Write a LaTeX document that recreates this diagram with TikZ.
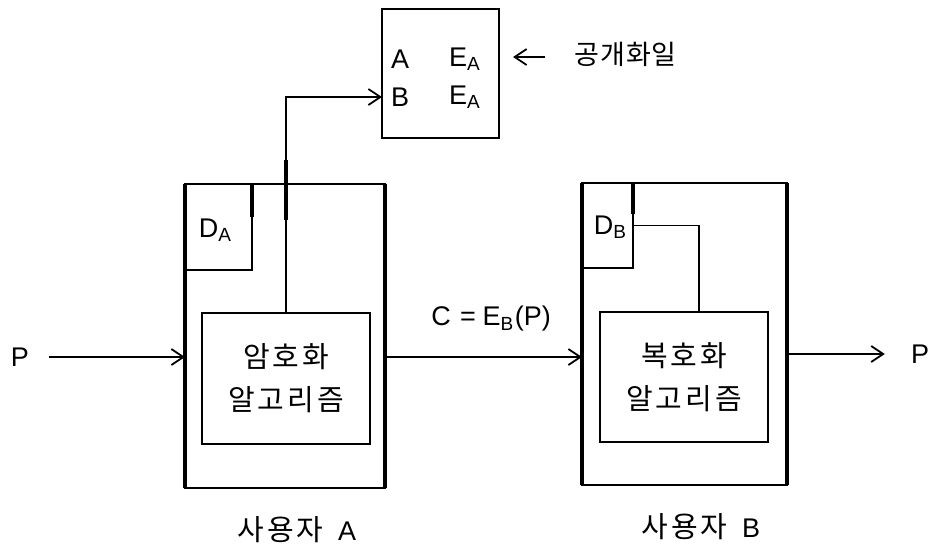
\documentclass[tikz,border=0pt]{standalone}
\usepackage{fontspec}
\setmainfont{Liberation Sans}
\newfontfamily\kr{Noto Sans CJK KR}
\usetikzlibrary{arrows.meta}
\newcommand{\lowsub}[1]{\raisebox{-0.3ex}{\fontsize{19}{19}\selectfont #1}}
\tikzset{
  box/.style={draw, line width=1.6pt, rectangle, inner sep=0pt, outer sep=0pt, anchor=north west},
  outerbox/.style={draw, line width=2.2pt, rectangle, inner sep=0pt, outer sep=0pt, anchor=north west},
  heavy/.style={line width=4pt},
  conn/.style={line width=1.6pt},
  arr/.style={line width=1.6pt, -{Straight Barb[length=12pt,width=16pt,line width=1.8pt]}},
  lat/.style={font=\fontsize{27}{30}\selectfont, inner sep=0pt},
  kor/.style={font=\kr\fontsize{29}{43}\selectfont\addfontfeature{LetterSpace=10}, inner sep=0pt, align=center},
}
\begin{document}
\begin{tikzpicture}[x=1pt,y=-1pt]
\useasboundingbox (0,0) rectangle (928,547);
% public file
\node[box, minimum width=117pt, minimum height=129pt] (pub) at (382,9) {};
\node[lat, anchor=west] (ra1) at (391,59) {A};
\node[lat, anchor=west] (ra2) at (449,59) {E\lowsub{A}};
\node[lat, anchor=west] (rb1) at (391,97) {B};
\node[lat, anchor=west] (rb2) at (449,97) {E\lowsub{A}};
\node[kor, anchor=west, font=\kr\fontsize{27}{30}\selectfont\addfontfeature{LetterSpace=4}] (pf) at (574,54) {공개화일};
\coordinate (pfs) at (545,57);
\draw[arr] (pfs) -- ([xshift=14pt]pfs -| pub.east);
% user A
\node[outerbox, minimum width=200pt, minimum height=304pt] (UA) at (185,184) {};
\draw[heavy] (UA.north west) -- (UA.south west);
\draw[heavy] (UA.north east) -- (UA.south east);
\node[box, minimum width=67pt, minimum height=86pt] (DA) at (185,184) {};
\node[lat] at (215,230) {D\lowsub{A}};
\draw[heavy] (DA.north east) -- ++(0,33);
\node[box, minimum width=168pt, minimum height=131pt] (encA) at (202,313) {};
\node[kor] at (encA.center) {암호화\\알고리즘};
\node[kor, anchor=center] (la) at (297,530) {사용자\hspace{0.5em}{\rmfamily\fontsize{27}{30}\selectfont A}};
% user B
\node[outerbox, minimum width=205pt, minimum height=302pt] (UB) at (582,183) {};
\draw[heavy] (UB.north west) -- (UB.south west);
\draw[heavy] (UB.north east) -- (UB.south east);
\node[box, minimum width=51pt, minimum height=85pt] (DB) at (582,183) {};
\node[lat] at (610,227) {D\lowsub{B}};
\draw[heavy] (DB.north east) -- ++(0,31);
\node[box, minimum width=168pt, minimum height=130pt] (decB) at (600,312) {};
\node[kor] at (decB.center) {복호화\\알고리즘};
\node[kor, anchor=center] (lb) at (701,527) {사용자\hspace{0.5em}{\rmfamily\fontsize{27}{30}\selectfont B}};
% connectors
\node[lat] (Pin) at (20,357) {P};
\node[lat] (Pout) at (920,354) {P};
\draw[arr] ([xshift=20pt]Pin.east) -- (Pin -| UA.west);
\draw[conn] (Pin -| UA.east) -- (Pin -| UB.west);
\draw[arr] (Pin -| UB.west) ++(-40,0) -- (Pin -| UB.west);
\draw[arr] (Pout -| UB.east) -- ([xshift=-26pt]Pout.west);
\node[lat] (c) at (491,319) {C\hspace{0.35em}=\hspace{0.25em}E\lowsub{B}\hspace{0.05em}(P)};
\draw[arr] (encA.north) |- (rb1 -| pub.west);
\draw[heavy] ([yshift=153pt]encA.north) -- ([yshift=93pt]encA.north);
\draw[conn] (DB.east) -| ([xshift=99pt]decB.north west);
\end{tikzpicture}
\end{document}
